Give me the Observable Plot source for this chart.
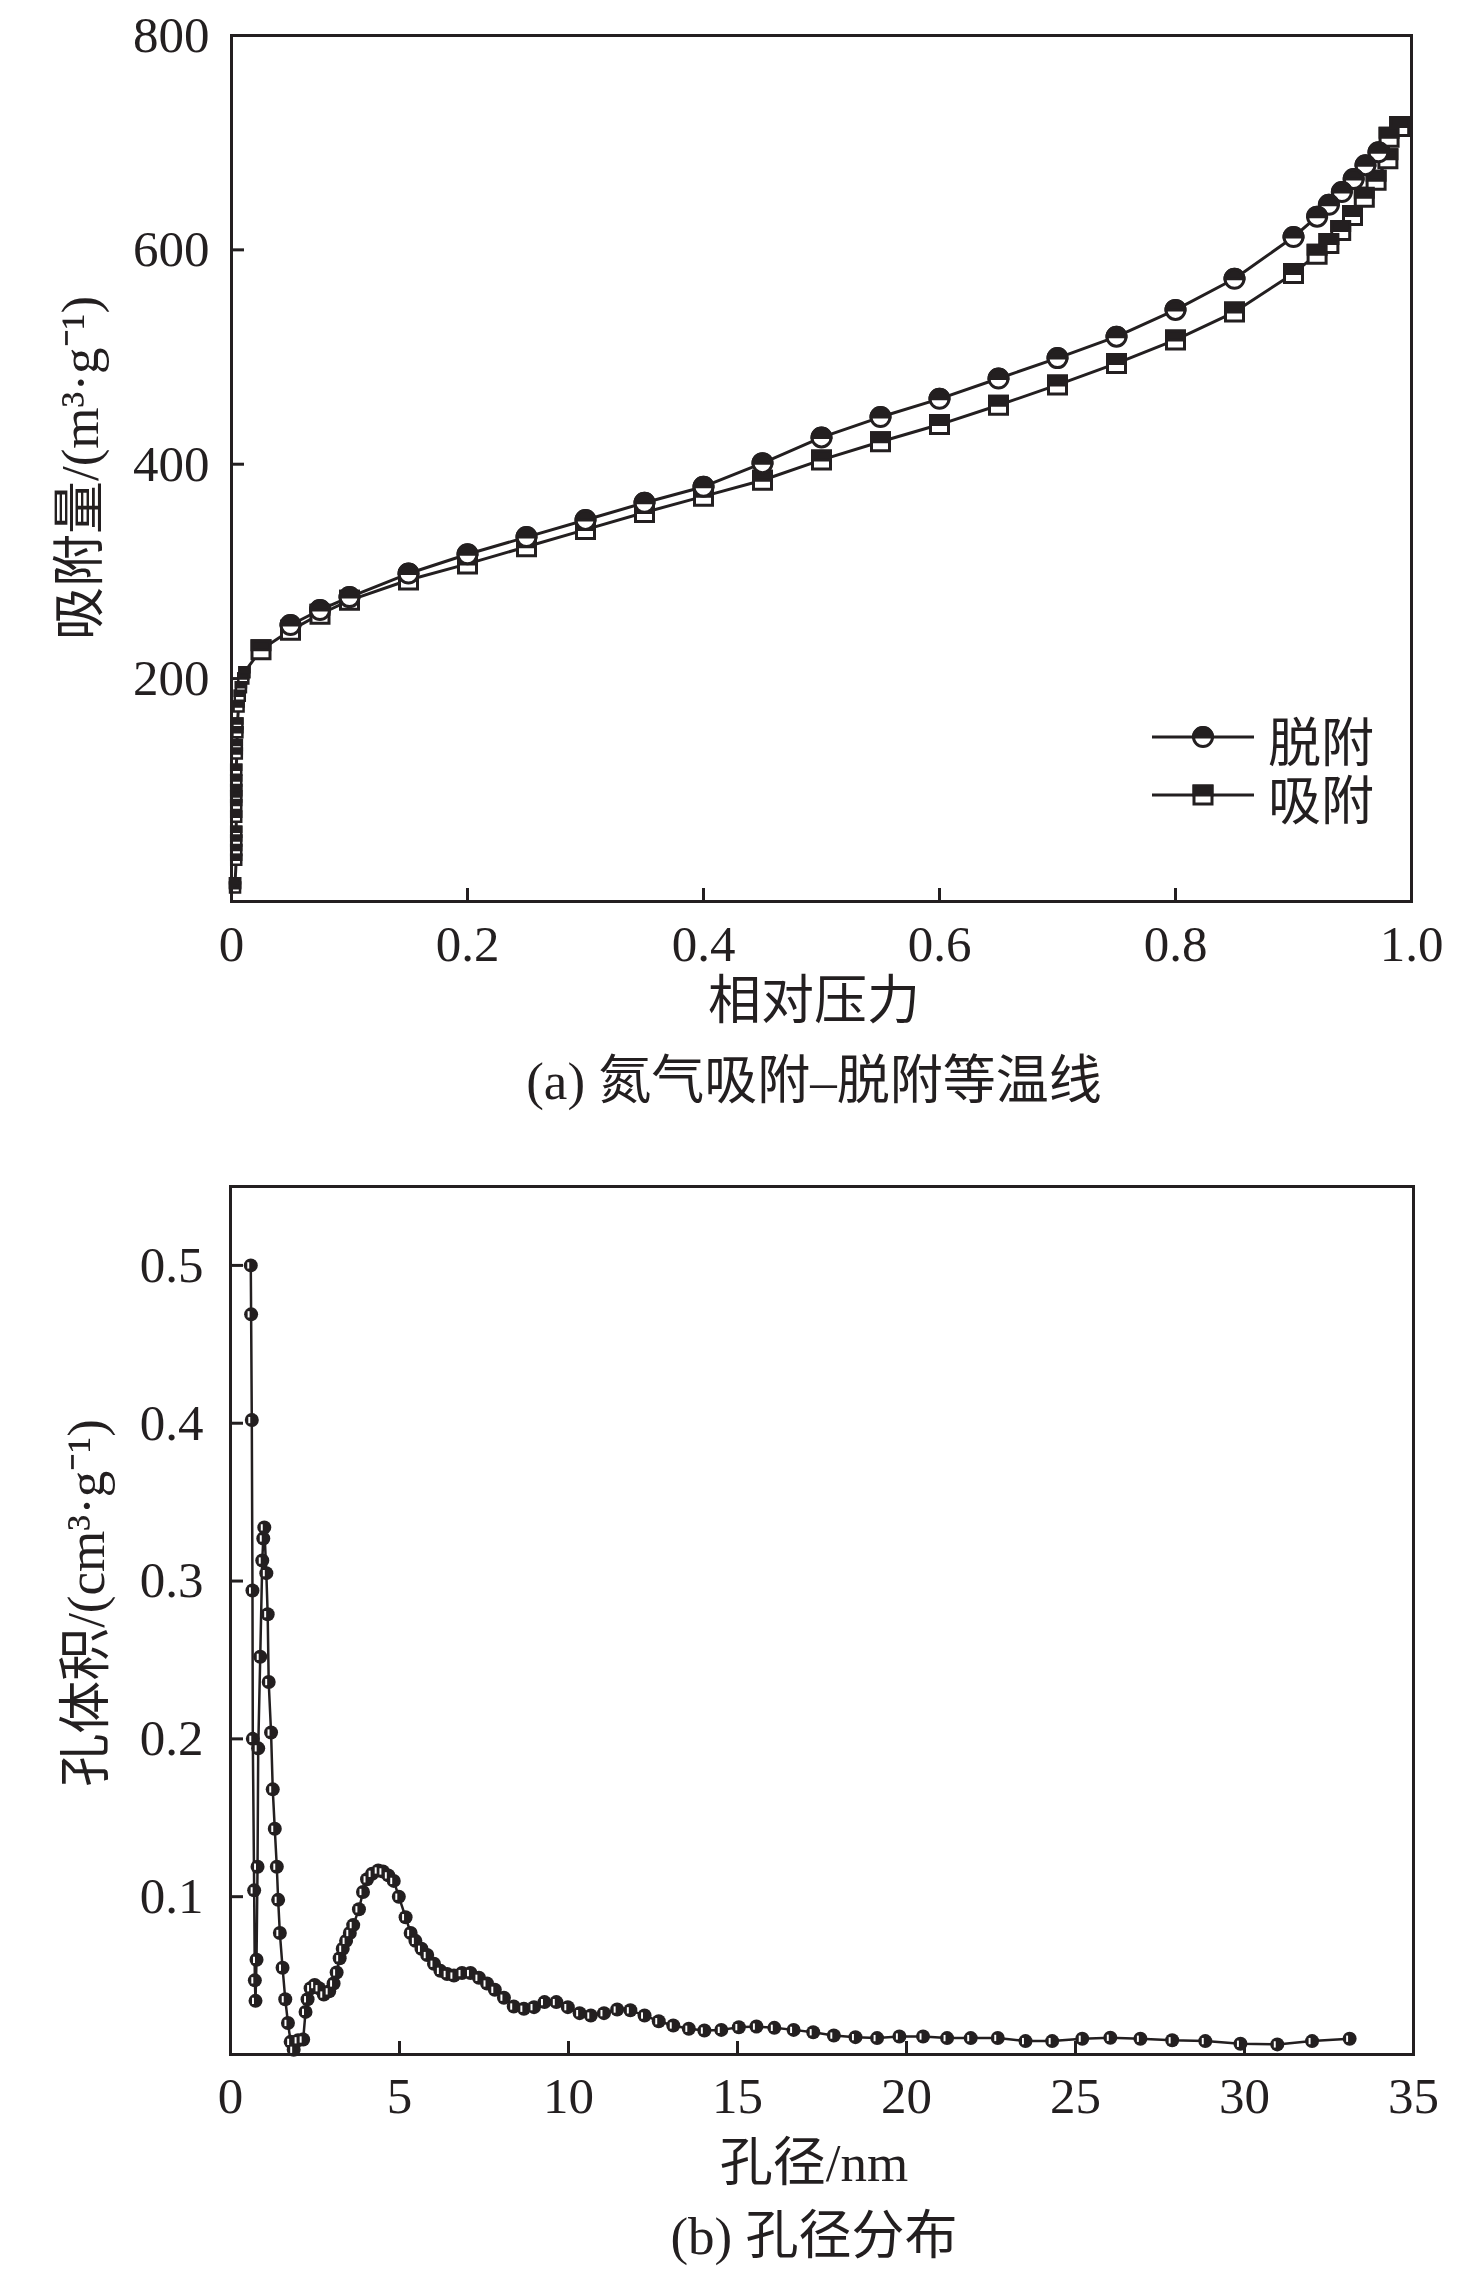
<!DOCTYPE html>
<html>
<head>
<meta charset="utf-8">
<script src="https://cdn.jsdelivr.net/npm/d3@7"></script>
<script src="https://cdn.jsdelivr.net/npm/@observablehq/plot@0.6"></script>
<style>
  body { margin: 0; background: #fff; }
  #page { position: relative; width: 1476px; height: 2272px; overflow: hidden;
          font-family: "Liberation Serif", "Noto Sans CJK SC", serif; color: #231f20; }
  .chart { position: absolute; left: 0; }
  .lbl { position: absolute; text-align: center; white-space: nowrap; font-size: 53px;
         height: 60px; line-height: 60px; }
  .rot { transform: rotate(-90deg); }
</style>
</head>
<body>
<div id="page"></div>
<script>
// ---------- data: (a) N2 adsorption–desorption isotherm ----------
const adsP = [0.003,0.003,0.004,0.004,0.004,0.004,0.004,0.004,0.004,0.004,0.004,0.004,0.0045,0.0045,0.005,0.005,0.006,0.007,0.008,0.010,0.011,
              0.025,0.05,0.075,0.10,0.15,0.20,0.25,0.30,0.35,0.40,0.45,0.50,0.55,0.60,0.65,0.70,0.75,0.80,0.85,0.90,0.92,0.93,0.94,0.95,0.96,0.97,0.98,0.981,0.99];
const adsV = [5,9,31,40,49,57,71,82,90,96,105,115,130,138,150,158,174,184,192,200,206,
              227,245,260,273,292,307,323,339,355,370,385,404,421,437,455,474,494,516,542,578,596,606,618,632,649,665,685,705,715];
const desP = [0.99,0.972,0.961,0.951,0.941,0.93,0.92,0.90,0.85,0.80,0.75,0.70,0.65,0.60,0.55,0.50,0.45,0.40,0.35,0.30,0.25,0.20,0.15,0.10,0.075,0.05];
const desV = [715,691,679,666,654,642,631,612,573,544,519,499,480,461,444,425,401,379,364,348,332,316,298,276,264,250];
const xTicksA = [0,0.2,0.4,0.6,0.8,1.0];
const yTicksA = [200,400,600,800];

// ---------- data: (b) pore size distribution ----------
const poreSize = [0.60,0.61,0.63,0.65,0.66,0.70,0.72,0.74,0.77,0.80,0.82,0.88,0.94,0.97,1.00,1.06,1.10,1.13,1.20,1.25,1.31,1.37,1.41,1.46,1.54,1.62,1.70,1.78,1.87,2.00,
  2.15,2.22,2.28,2.37,2.49,2.62,2.76,2.92,3.05,3.14,3.23,3.32,3.42,3.53,3.63,3.80,3.92,4.04,4.19,4.37,4.51,4.67,4.83,4.98,5.18,5.33,5.47,5.65,5.82,6.02,
  6.21,6.41,6.61,6.85,7.10,7.35,7.59,7.82,8.09,8.38,8.68,8.98,9.29,9.64,9.98,10.33,10.66,11.05,11.44,11.83,12.25,12.67,13.10,13.56,14.02,14.52,15.04,15.56,16.09,16.66,
  17.24,17.85,18.49,19.13,19.79,20.49,21.20,21.90,22.70,23.52,24.31,25.20,26.03,26.92,27.86,28.84,29.88,30.97,32.00,33.11];
const poreVolume = [0.500,0.469,0.402,0.294,0.200,0.104,0.047,0.034,0.060,0.119,0.194,0.252,0.313,0.327,0.334,0.305,0.279,0.236,0.204,0.168,0.143,0.119,0.098,0.077,0.055,0.035,0.020,0.008,0.003,0.009,
  0.0095,0.027,0.035,0.042,0.044,0.042,0.038,0.040,0.045,0.052,0.061,0.067,0.072,0.077,0.082,0.092,0.103,0.111,0.1145,0.1166,0.116,0.1135,0.110,0.100,0.087,0.077,0.072,0.067,0.063,0.0575,
  0.053,0.051,0.050,0.0516,0.0516,0.0486,0.045,0.041,0.036,0.0304,0.029,0.030,0.0332,0.0332,0.030,0.0262,0.0247,0.0262,0.0285,0.028,0.0247,0.0211,0.0184,0.0163,0.0152,0.0156,0.0173,0.0177,0.0169,0.0156,
  0.0141,0.012,0.011,0.0104,0.0114,0.0114,0.0104,0.0104,0.0105,0.0085,0.0085,0.010,0.0106,0.010,0.009,0.0085,0.0068,0.0064,0.0085,0.010];
const xTicksB = [0,5,10,15,20,25,30,35];
const yTicksB = [0.1,0.2,0.3,0.4,0.5];

// ---------- text ----------
const labelsA = {y: "吸附量/(m³·g⁻¹)", x: "相对压力", caption: "(a) 氮气吸附–脱附等温线", des: "脱附", ads: "吸附"};
const labelsB = {y: "孔体积/(cm³·g⁻¹)", x: "孔径/nm", caption: "(b) 孔径分布"};

// ---------- build tables ----------
const ads = adsP.map((p, i) => ({p, v: adsV[i]}));
const des = desP.map((p, i) => ({p, v: desV[i]}));
const psd = poreSize.map((d, i) => ({d, v: poreVolume[i]}));

const INK = "#231f20";
const FONT = "'Liberation Serif', 'Noto Sans CJK SC', serif";

// custom symbols (size = r² π)
const circleTop = {draw(ctx, size) { const r = Math.sqrt(size / Math.PI); ctx.moveTo(r, 0); ctx.arc(0, 0, r, 0, Math.PI, true); ctx.closePath(); }};
const squareFull = {draw(ctx, size) { const h = Math.sqrt(size / Math.PI); ctx.rect(-h, -h, 2 * h, 2 * h); }};
const squareTop = {draw(ctx, size) { const h = Math.sqrt(size / Math.PI); ctx.rect(-h, -h, 2 * h, h); }};
const sliver = {draw(ctx, size) { const r = Math.sqrt(size / Math.PI); ctx.rect(-0.5 * r, -0.45 * r, 0.28 * r, 0.9 * r); }};

const adsLow = ads.filter(d => d.p < 0.02);
const adsMain = ads.filter(d => d.p >= 0.02);
const desDots = des.slice(1);

const page = document.getElementById("page");

function fmtA(d) { return d === 0 ? "0" : d.toFixed(1); }

const chartA = Plot.plot({
  width: 1476, height: 960,
  marginTop: 35, marginBottom: 59, marginLeft: 231, marginRight: 65,
  style: {fontFamily: FONT, fontSize: "50px", color: INK, background: "transparent", overflow: "visible"},
  x: {domain: [0, 1], label: null},
  y: {domain: [-8, 800], label: null},
  marks: [
    Plot.axisX(xTicksA, {tickSize: -13, strokeWidth: 3, stroke: INK, tickFormat: () => ""}),
    Plot.axisY(yTicksA, {tickSize: -13, strokeWidth: 3, stroke: INK, tickFormat: () => ""}),
    Plot.axisX(xTicksA, {tickSize: 0, tickPadding: 23, tickFormat: fmtA, fontSize: 51, fill: INK}),
    Plot.axisY(yTicksA, {tickSize: 0, tickPadding: 22, tickFormat: d => String(d), fontSize: 51, fill: INK}),
    Plot.line(ads, {x: "p", y: "v", stroke: INK, strokeWidth: 3}),
    Plot.line(des, {x: "p", y: "v", stroke: INK, strokeWidth: 3}),
    Plot.dot(adsLow, {x: "p", y: "v", r: 5, symbol: squareFull, fill: "white", stroke: INK, strokeWidth: 2.5}),
    Plot.dot(adsLow, {x: "p", y: "v", r: 5, symbol: squareTop, fill: INK, stroke: INK, strokeWidth: 2.5}),
    Plot.dot(adsMain, {x: "p", y: "v", r: 9, symbol: squareFull, fill: "white", stroke: INK, strokeWidth: 3}),
    Plot.dot(adsMain, {x: "p", y: "v", r: 9, symbol: squareTop, fill: INK, stroke: INK, strokeWidth: 3}),
    Plot.dot(desDots, {x: "p", y: "v", r: 9.5, symbol: "circle", fill: "white", stroke: INK, strokeWidth: 3}),
    Plot.dot(desDots, {x: "p", y: "v", r: 9.5, symbol: circleTop, fill: INK, stroke: INK, strokeWidth: 3}),
    Plot.frame({stroke: INK, strokeWidth: 3})
  ]
});
chartA.classList.add("chart");
chartA.style.top = "0px";
page.appendChild(chartA);

const chartB = Plot.plot({
  width: 1476, height: 960,
  marginTop: 36, marginBottom: 56, marginLeft: 230, marginRight: 63,
  style: {fontFamily: FONT, fontSize: "50px", color: INK, background: "transparent", overflow: "visible"},
  x: {domain: [0, 35], label: null},
  y: {domain: [0, 0.55], label: null},
  marks: [
    Plot.axisX(xTicksB, {tickSize: -13, strokeWidth: 3, stroke: INK, tickFormat: () => ""}),
    Plot.axisY(yTicksB, {tickSize: -13, strokeWidth: 3, stroke: INK, tickFormat: () => ""}),
    Plot.axisX(xTicksB, {tickSize: 0, tickPadding: 22, tickFormat: d => String(d), fontSize: 51, fill: INK}),
    Plot.axisY(yTicksB, {tickSize: 0, tickPadding: 27, tickFormat: d => d.toFixed(1), fontSize: 51, fill: INK}),
    Plot.line(psd, {x: "d", y: "v", stroke: INK, strokeWidth: 2.5}),
    Plot.dot(psd, {x: "d", y: "v", r: 7, fill: INK, stroke: "none"}),
    Plot.dot(psd, {x: "d", y: "v", r: 7, symbol: sliver, fill: "white"}),
    Plot.frame({stroke: INK, strokeWidth: 3})
  ]
});
chartB.classList.add("chart");
chartB.style.top = "1150px";
page.appendChild(chartB);

// ---------- legend of (a), overlaid inside the frame ----------
const leg = d3.create("svg").attr("width", 1476).attr("height", 1000)
  .style("position", "absolute").style("left", "0px").style("top", "0px").style("pointer-events", "none");
const rows = [
  {label: labelsA.des, y: 737, kind: "circle"},
  {label: labelsA.ads, y: 795, kind: "square"}
];
for (const row of rows) {
  const g = leg.append("g");
  g.append("line").attr("x1", 1152).attr("x2", 1254).attr("y1", row.y).attr("y2", row.y)
    .attr("stroke", INK).attr("stroke-width", 3);
  const t = `translate(1203,${row.y})`;
  if (row.kind === "circle") {
    g.append("path").attr("transform", t).attr("d", d3.symbol(d3.symbolCircle, 90.25 * Math.PI)())
      .attr("fill", "white").attr("stroke", INK).attr("stroke-width", 3);
    g.append("path").attr("transform", t).attr("d", d3.symbol(circleTop, 90.25 * Math.PI)())
      .attr("fill", INK).attr("stroke", INK).attr("stroke-width", 3);
  } else {
    g.append("path").attr("transform", t).attr("d", d3.symbol(squareFull, 81 * Math.PI)())
      .attr("fill", "white").attr("stroke", INK).attr("stroke-width", 3);
    g.append("path").attr("transform", t).attr("d", d3.symbol(squareTop, 81 * Math.PI)())
      .attr("fill", INK).attr("stroke", INK).attr("stroke-width", 3);
  }
  g.append("text").attr("x", 1268).attr("y", row.y + 7).attr("dominant-baseline", "central")
    .attr("font-family", FONT).attr("font-size", 53).attr("fill", INK).text(row.label);
}
page.appendChild(leg.node());

// ---------- axis titles and captions ----------
function addLabel(text, cx, cy, rotate) {
  const div = document.createElement("div");
  div.className = "lbl" + (rotate ? " rot" : "");
  div.style.width = "800px";
  div.style.left = (cx - 400) + "px";
  div.style.top = (cy - 30) + "px";
  div.textContent = text;
  page.appendChild(div);
}
addLabel(labelsA.y, 80, 468, true);
addLabel(labelsA.x, 814, 1001, false);
addLabel(labelsA.caption, 814, 1081, false);
addLabel(labelsB.y, 86, 1603, true);
addLabel(labelsB.x, 814, 2163, false);
addLabel(labelsB.caption, 814, 2236, false);
</script>
</body>
</html>
